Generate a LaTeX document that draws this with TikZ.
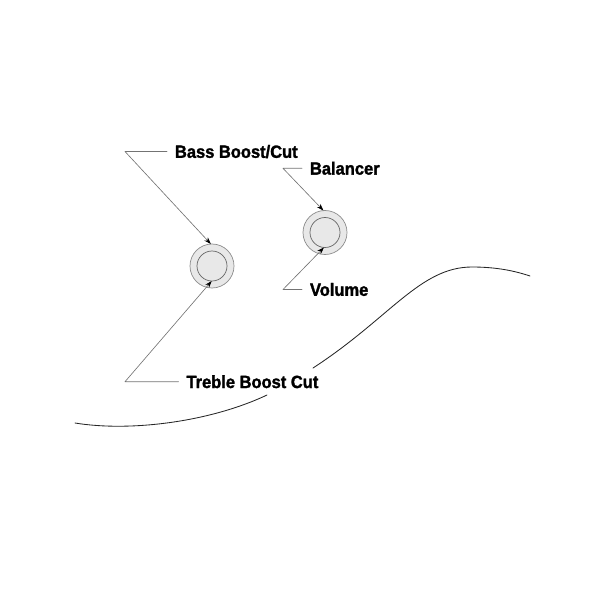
\documentclass[tikz,border=0pt]{standalone}
\usepackage{fontspec}
\setmainfont{Liberation Sans}[FakeStretch=0.93,BoldFeatures={FakeBold=1.6}]
\usetikzlibrary{arrows.meta}

\begin{document}
\begin{tikzpicture}[
    x=0.025cm,
    y=-0.025cm,
    line cap=round,
    line join=round,
    body/.style={
        line width=0.6pt,
        draw=black!85
    },
    knob/.style={
        circle,
        draw=black!45,
        fill=black!9,
        line width=0.5pt,
        inner sep=0pt,
        outer sep=0pt,
        minimum size=1.1cm
    },
    knobcap/.style={
        circle,
        draw=black!60,
        line width=0.5pt,
        inner sep=0pt,
        outer sep=0pt,
        minimum size=0.75cm
    },
    tag/.style={
        anchor=west,
        font=\bfseries\fontsize{12.6}{14}\selectfont,
        text height=9pt,
        text depth=0pt,
        inner xsep=0.2cm,
        inner ysep=0pt,
        outer sep=0pt
    },
    leader/.style={
        draw=black!55,
        line width=0.45pt,
        -{Stealth[length=5pt,width=3.4pt,color=black]}
    }
]

% -------------------------------------------------
% Frame of the picture
% -------------------------------------------------

\useasboundingbox (0,0) rectangle (600,600);

% -------------------------------------------------
% Knobs
% -------------------------------------------------

\node[knob]    (bass) at (212,266) {};
\node[knobcap] (bassin) at (212,266) {};

\node[knob]    (bal) at (325,232.5) {};
\node[knobcap] (balin) at (325,232.5) {};

% -------------------------------------------------
% Labels
% -------------------------------------------------

\node[tag] (bassL) at (167,151.5) {Bass Boost/Cut};
\node[tag] (balL)  at (302,168.3) {Balancer};
\node[tag] (volL)  at (302,289.5) {Volume};
\node[tag] (trebL) at (178.5,381.7) {Treble Boost Cut};

% Elbows of the leaders
\coordinate (bassB) at (125,151.5);
\coordinate (balB)  at (283,168.3);
\coordinate (volB)  at (283,289.5);
\coordinate (trebB) at (125,381.7);

% -------------------------------------------------
% Leaders
% -------------------------------------------------

\draw[leader] (bassL.west) -- (bassB) -- (bass.93);
\draw[leader] (balL.west) -- (balB) -- (bal.94);
\draw[leader] (volL.west) -- (volB) -- (balin.-94);
\draw[leader] (trebL.west) -- (trebB) -- (bassin.-91);

% -------------------------------------------------
% Edge of the body, broken at the label
% -------------------------------------------------

\draw[body]
    (75,423) .. controls (130,432) and (210,422) .. (267,395);

\draw[body]
    (313,368) .. controls (390,318) and (420,267) .. (472,267)
    .. controls (497,267) and (515,271) .. (530,276);

\end{tikzpicture}
\end{document}
